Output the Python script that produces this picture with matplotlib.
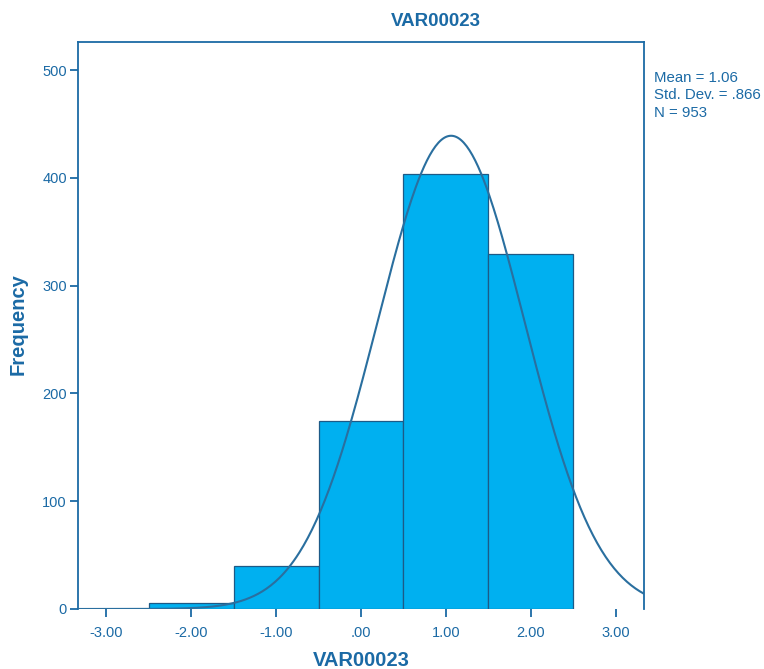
import numpy as np
import matplotlib
matplotlib.use("Agg")
import matplotlib.pyplot as plt

# Data
bin_centers = [-2.0, -1.0, 0.0, 1.0, 2.0]
frequencies = [6, 40, 174, 404, 329]
mean = 1.06
std = 0.866
n = 953
bin_width = 1.0
x_ticks = [-3, -2, -1, 0, 1, 2, 3]
x_tick_labels = ["-3.00", "-2.00", "-1.00", ".00", "1.00", "2.00", "3.00"]
y_ticks = [0, 100, 200, 300, 400, 500]

text_color = "#1b6aa5"
bar_color = "#00b0f0"
edge_color = "#1d5a87"
line_color = "#2a6f9f"

plt.rcParams["font.family"] = ["Liberation Sans", "DejaVu Sans"]

fig = plt.figure(figsize=(7.64, 6.69), dpi=100)
ax = fig.add_axes([78/764, 60/669, (644-78)/764, (609-42)/669])

ax.bar(bin_centers, frequencies, width=bin_width, color=bar_color,
       edgecolor=edge_color, linewidth=0.9, zorder=2)

xs = np.linspace(-3.33, 3.33, 400)
ys = n * bin_width / (std * np.sqrt(2 * np.pi)) * np.exp(-0.5 * ((xs - mean) / std) ** 2)
ax.plot(xs, ys, color=line_color, linewidth=1.5, zorder=3)

ax.set_xlim(-3.33, 3.33)
ax.set_ylim(0, 526)
ax.set_xticks(x_ticks)
ax.set_xticklabels(x_tick_labels)
ax.set_yticks(y_ticks)

for side in ["left", "top", "right"]:
    ax.spines[side].set_color(text_color)
    ax.spines[side].set_linewidth(1.3)
ax.spines["bottom"].set_visible(False)

ax.tick_params(axis="both", colors=text_color, labelcolor=text_color,
               direction="out", length=6, width=1.3, labelsize=10.5)
ax.tick_params(axis="x", pad=6)
ax.tick_params(axis="y", pad=2)

fig.text(361/764, 1 - 660/669, "VAR00023", ha="center", va="center",
         fontsize=14.5, fontweight="bold", color=text_color)
fig.text(18/764, 1 - 324/669, "Frequency", ha="center", va="center", rotation=90,
         fontsize=14.5, fontweight="bold", color=text_color)

fig.text(436/764, 1 - 22/669, "VAR00023", ha="center", va="center",
         fontsize=13.5, fontweight="bold", color=text_color)

fig.text(654/764, 1 - 71/669,
         "Mean = 1.06\nStd. Dev. = .866\nN = " + str(n),
         ha="left", va="top", fontsize=10.8, color=text_color, linespacing=1.3)

fig.savefig("out.png", dpi=100)
